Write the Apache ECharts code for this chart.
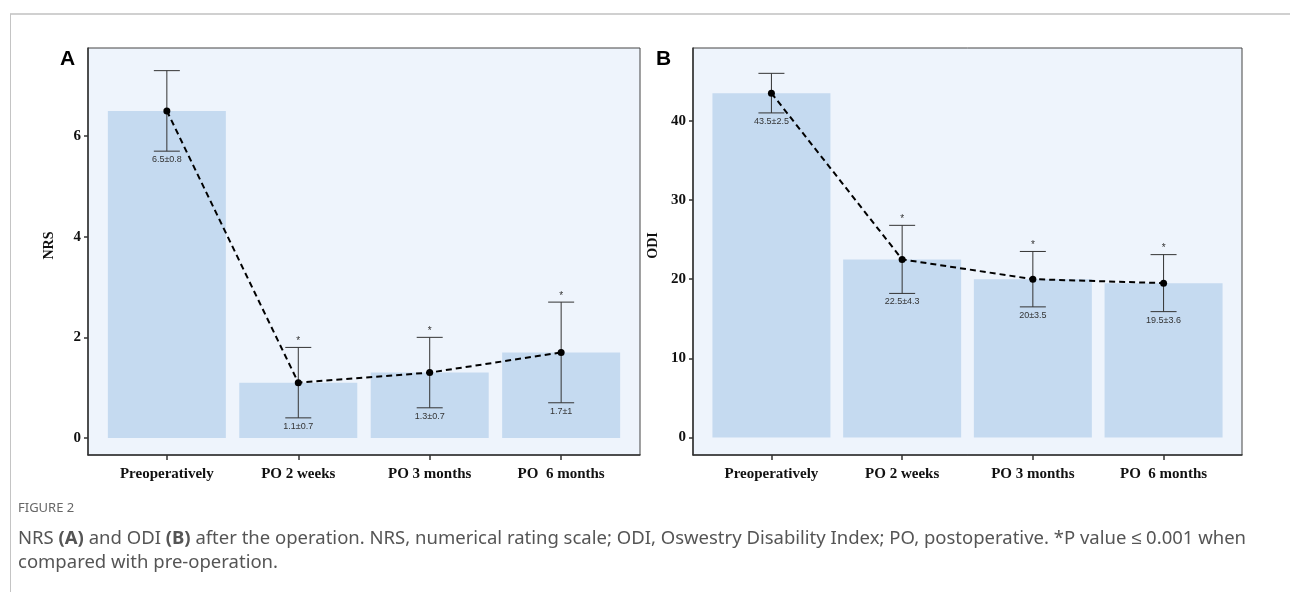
<!DOCTYPE html>
<html><head><meta charset="utf-8">
<script src="https://cdn.jsdelivr.net/npm/echarts@6/dist/echarts.min.js"></script>
<style>html,body{margin:0;padding:0;background:#fff}#c{width:1290px;height:592px}</style>
</head><body><div id="c"></div>
<script>
// ---- data ----
const categories = ['Preoperatively', 'PO 2 weeks', 'PO 3 months', 'PO  6 months'];
const nrsMean = [6.5, 1.1, 1.3, 1.7];
const nrsSD = [0.8, 0.7, 0.7, 1];
const odiMean = [43.5, 22.5, 20, 19.5];
const odiSD = [2.5, 4.3, 3.5, 3.6];
const significant = [false, true, true, true];
const nrsTicks = [0, 2, 4, 6];
const odiTicks = [0, 10, 20, 30, 40];
const catPositions = [1, 2, 3, 4];

// ---- styles ----
const BAR = '#c5daf0';
const BG = '#eef4fc';
const AXIS = '#333';
const serif = '"Liberation Serif", "DejaVu Serif", serif';
const sans = '"Liberation Sans", Arial, sans-serif';
const capFont = '"Noto Sans", sans-serif';

const chart = echarts.init(document.getElementById('c'), null, {renderer: 'canvas'});

function xAxisDef(gridIndex) {
  return {
    type: 'value', gridIndex, min: 0.4, max: 4.6,
    axisLine: {show: true, onZero: false, lineStyle: {color: AXIS, width: 1.5}},
    axisTick: {show: true, length: 5, lineStyle: {color: AXIS, width: 1.5}, customValues: catPositions},
    axisLabel: {
      customValues: catPositions, margin: 12,
      formatter: v => categories[Math.round(v) - 1] || '',
      fontFamily: serif, fontWeight: 'bold', fontSize: 15, color: '#111'
    },
    splitLine: {show: false}
  };
}
function yAxisDef(gridIndex, min, max, ticks, name, nameGap) {
  return {
    type: 'value', gridIndex, min, max,
    name, nameLocation: 'middle', nameGap, nameRotate: 90,
    nameTextStyle: {fontFamily: serif, fontWeight: 'bold', fontSize: 14, color: '#111', padding: [0, 0, 0, 12]},
    axisLine: {show: true, onZero: false, lineStyle: {color: AXIS, width: 1.5}},
    axisTick: {show: true, length: 4, lineStyle: {color: AXIS, width: 1.5}, customValues: ticks},
    axisLabel: {customValues: ticks, margin: 7, fontFamily: serif, fontWeight: 'bold', fontSize: 15, color: '#111'},
    splitLine: {show: false}
  };
}

function barSeries(idx, mean) {
  return {
    type: 'bar', xAxisIndex: idx, yAxisIndex: idx,
    data: mean.map((v, i) => [catPositions[i], v]),
    barWidth: 118, itemStyle: {color: BAR}, z: 2, silent: true
  };
}
function errSeries(idx, mean, sd) {
  return {
    type: 'custom', xAxisIndex: idx, yAxisIndex: idx, z: 3, silent: true,
    data: mean.map((m, i) => [catPositions[i], m - sd[i], m + sd[i], i]),
    encode: {x: 0, y: [1, 2]},
    renderItem(params, api) {
      const x = api.value(0), lo = api.value(1), hi = api.value(2), i = api.value(3);
      const pLo = api.coord([x, lo]), pHi = api.coord([x, hi]);
      const hw = 13;
      const st = {stroke: '#333', lineWidth: 1};
      const ch = [
        {type: 'line', shape: {x1: pLo[0], y1: pLo[1], x2: pHi[0], y2: pHi[1]}, style: st},
        {type: 'line', shape: {x1: pLo[0] - hw, y1: pLo[1], x2: pLo[0] + hw, y2: pLo[1]}, style: st},
        {type: 'line', shape: {x1: pHi[0] - hw, y1: pHi[1], x2: pHi[0] + hw, y2: pHi[1]}, style: st},
        {type: 'text', style: {text: mean[i] + '±' + sd[i], x: pLo[0], y: pLo[1] + 8.5,
          align: 'center', verticalAlign: 'middle', font: '9px ' + sans, fill: '#333'}}
      ];
      if (significant[i]) {
        ch.push({type: 'text', style: {text: '*', x: pHi[0], y: pHi[1] - 6,
          align: 'center', verticalAlign: 'middle', font: '10px ' + sans, fill: '#333'}});
      }
      return {type: 'group', children: ch};
    }
  };
}
function lineSeries(idx, mean) {
  return {
    type: 'line', xAxisIndex: idx, yAxisIndex: idx, z: 4, silent: true,
    data: mean.map((v, i) => [catPositions[i], v]),
    symbol: 'circle', symbolSize: 7, itemStyle: {color: '#000'},
    lineStyle: {color: '#000', width: 2, type: [6, 4]}
  };
}

const caption = '{n|NRS }{b|(A)}{n| and ODI }{b|(B)}{n| after the operation. NRS, numerical rating scale; ODI, Oswestry Disability Index; PO, postoperative. *P value ≤ 0.001 when}';

chart.setOption({
  animation: false,
  grid: [
    {left: 88, top: 48, width: 552, height: 407, show: true, backgroundColor: BG, borderColor: '#444', borderWidth: 1},
    {left: 693, top: 48, width: 549, height: 407, show: true, backgroundColor: BG, borderColor: '#444', borderWidth: 1}
  ],
  xAxis: [xAxisDef(0), xAxisDef(1)],
  yAxis: [
    yAxisDef(0, -0.338, 7.75, nrsTicks, 'NRS', 32),
    yAxisDef(1, -2.21, 49.2, odiTicks, 'ODI', 33)
  ],
  series: [
    barSeries(0, nrsMean), errSeries(0, nrsMean, nrsSD), lineSeries(0, nrsMean),
    barSeries(1, odiMean), errSeries(1, odiMean, odiSD), lineSeries(1, odiMean)
  ],
  graphic: [
    {type: 'line', shape: {x1: 10, y1: 14, x2: 1290, y2: 14}, style: {stroke: '#d0d0d0', lineWidth: 2}},
    {type: 'line', shape: {x1: 10.5, y1: 14, x2: 10.5, y2: 592}, style: {stroke: '#c4c4c4', lineWidth: 1}},
    {type: 'text', x: 60, y: 49, style: {text: 'A', font: 'bold 21px ' + sans, fill: '#000'}},
    {type: 'text', x: 656, y: 49, style: {text: 'B', font: 'bold 21px ' + sans, fill: '#000'}},
    {type: 'text', x: 18, y: 502, style: {text: 'FIGURE 2', font: '13px ' + capFont, fill: '#666'}},
    {type: 'text', x: 18, y: 529, style: {text: caption, font: '18.5px ' + capFont, fill: '#555',
      rich: {n: {font: '18.5px ' + capFont, fill: '#555'}, b: {font: 'bold 18.5px ' + capFont, fill: '#555'}}}},
    {type: 'text', x: 18, y: 553, style: {text: 'compared with pre-operation.', font: '18.5px ' + capFont, fill: '#555'}}
  ]
});
</script></body></html>
